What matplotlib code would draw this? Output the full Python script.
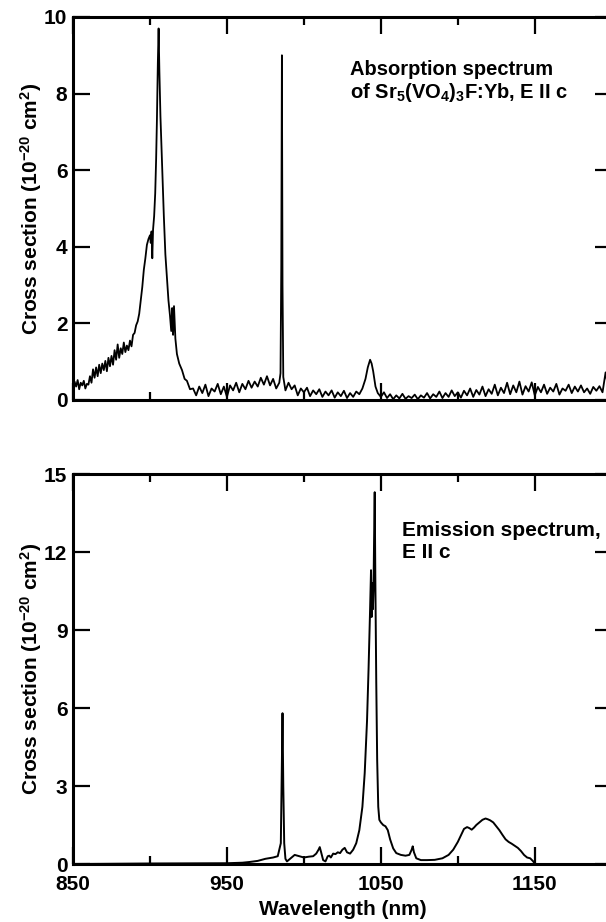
import numpy as np
import matplotlib
matplotlib.use("Agg")
import matplotlib.pyplot as plt
from matplotlib.ticker import MultipleLocator

# Fuentes: todo en negrita tipo Helvetica
plt.rcParams['font.family'] = ['Liberation Sans', 'DejaVu Sans']
plt.rcParams['font.weight'] = 'bold'
plt.rcParams['mathtext.fontset'] = 'custom'
plt.rcParams['mathtext.rm'] = 'Liberation Sans:bold'
plt.rcParams['mathtext.it'] = 'Liberation Sans:bold'
plt.rcParams['mathtext.bf'] = 'Liberation Sans:bold'

# Espectro de absorcion
abs_wl_a = np.arange(850, 901, 1)
abs_cs_a = [0.30, 0.48, 0.35, 0.52, 0.28, 0.45, 0.38, 0.50, 0.30, 0.42,
            0.40, 0.62, 0.45, 0.80, 0.58, 0.85, 0.62, 0.92, 0.70, 0.95,
            0.78, 1.02, 0.75, 1.10, 0.88, 1.15, 0.92, 1.30, 1.05, 1.45,
            1.10, 1.35, 1.20, 1.50, 1.25, 1.42, 1.30, 1.55, 1.40, 1.70,
            1.75, 1.95, 2.05, 2.25, 2.60, 2.95, 3.40, 3.70, 4.05, 4.20,
            4.30]
abs_wl_peak = [900.5, 901, 901.5, 902, 902.7, 903.4, 904, 904.5, 905.1, 905.6,
               906.1, 906.8, 907.8, 909, 910, 911, 912, 913, 913.8, 914.4,
               915, 915.6, 916.5, 917.5, 919, 920.8, 922.5, 924, 926]
abs_cs_peak = [4.10, 4.40, 3.70, 4.45, 4.80, 5.40, 6.30, 7.30, 8.80, 9.70,
               8.60, 7.40, 6.20, 4.80, 3.80, 3.20, 2.60, 2.20, 1.80, 2.40,
               1.70, 2.45, 1.60, 1.20, 0.95, 0.78, 0.55, 0.50, 0.28]
abs_wl_b = np.arange(928, 985, 2)
abs_cs_b = [0.30, 0.12, 0.35, 0.18, 0.40, 0.10, 0.30, 0.22, 0.42, 0.15,
            0.35, 0.08, 0.38, 0.25, 0.45, 0.20, 0.42, 0.28, 0.50, 0.32,
            0.48, 0.35, 0.58, 0.40, 0.62, 0.38, 0.55, 0.30, 0.45]
abs_wl_line = [984.8, 985.3, 985.7, 986.1, 986.6]
abs_cs_line = [0.70, 3.50, 9.00, 3.00, 0.60]
abs_wl_c = np.arange(988, 1037, 2)
abs_cs_c = [0.25, 0.45, 0.28, 0.38, 0.12, 0.30, 0.20, 0.32, 0.10, 0.25,
            0.15, 0.28, 0.08, 0.22, 0.12, 0.25, 0.06, 0.20, 0.10, 0.24,
            0.05, 0.18, 0.08, 0.22, 0.15]
abs_wl_bump = [1038, 1040, 1041.5, 1043, 1044, 1045, 1046.5, 1048]
abs_cs_bump = [0.30, 0.55, 0.85, 1.05, 0.95, 0.75, 0.35, 0.18]
abs_wl_d = np.arange(1050, 1201, 2)
abs_cs_d = [0.08, 0.20, 0.05, 0.15, 0.02, 0.12, 0.04, 0.16, 0.03, 0.10,
            0.05, 0.14, 0.02, 0.12, 0.06, 0.18, 0.04, 0.15, 0.08, 0.22,
            0.05, 0.18, 0.08, 0.25, 0.10, 0.20, 0.06, 0.24, 0.12, 0.30,
            0.08, 0.26, 0.14, 0.35, 0.10, 0.28, 0.16, 0.40, 0.12, 0.32,
            0.18, 0.45, 0.15, 0.38, 0.20, 0.48, 0.14, 0.36, 0.22, 0.46,
            0.12, 0.34, 0.20, 0.40, 0.16, 0.32, 0.22, 0.42, 0.14, 0.30,
            0.24, 0.40, 0.18, 0.35, 0.22, 0.38, 0.20, 0.30, 0.16, 0.34,
            0.24, 0.36, 0.20, 0.72, 0.25, 0.35]

abs_wl = np.concatenate([abs_wl_a, abs_wl_peak, abs_wl_b, abs_wl_line,
                         abs_wl_c, abs_wl_bump, abs_wl_d])
abs_cs = np.concatenate([abs_cs_a, abs_cs_peak, abs_cs_b, abs_cs_line,
                         abs_cs_c, abs_cs_bump, abs_cs_d])

# Espectro de emision
em_wl = [850, 900, 950, 960, 965, 970, 975, 980, 983, 985,
         985.6, 986.1, 986.6, 987.2, 988, 989, 991, 994, 997, 1000,
         1003, 1006, 1008, 1009.5, 1010.3, 1011.2, 1012.5, 1014, 1015.5, 1016.5,
         1017.5, 1019, 1020.5, 1022, 1023.5, 1025, 1026.5, 1028, 1030, 1032,
         1034, 1036, 1038, 1039.5, 1041, 1042, 1043, 1043.6, 1044.0, 1044.4,
         1044.8, 1045.2, 1045.6, 1046.0, 1046.4, 1047, 1047.6, 1048.3, 1049, 1050,
         1051.5, 1053, 1054.5, 1056, 1058, 1060, 1063, 1066, 1068.5, 1070,
         1070.7, 1071.5, 1073, 1076, 1080, 1085, 1090, 1094, 1097, 1100,
         1102, 1104, 1106, 1107.5, 1109, 1110.5, 1112, 1114, 1116, 1118,
         1119.5, 1121, 1123, 1125, 1127, 1129, 1131, 1133, 1135, 1137,
         1139, 1141, 1143, 1145, 1147, 1149, 1150, 1160, 1200]
em_cs = [0.00, 0.02, 0.03, 0.05, 0.08, 0.12, 0.20, 0.25, 0.30, 0.80,
         3.50, 5.80, 3.00, 0.80, 0.20, 0.10, 0.20, 0.35, 0.30, 0.25,
         0.28, 0.30, 0.40, 0.55, 0.65, 0.45, 0.15, 0.10, 0.30, 0.32,
         0.25, 0.40, 0.38, 0.45, 0.42, 0.55, 0.62, 0.45, 0.40, 0.55,
         0.80, 1.30, 2.20, 3.50, 5.50, 7.50, 9.80, 11.30, 9.50, 10.80,
         9.80, 10.50, 12.50, 14.30, 11.00, 7.00, 4.00, 2.20, 1.70, 1.60,
         1.50, 1.45, 1.30, 0.95, 0.60, 0.42, 0.35, 0.32, 0.35, 0.55,
         0.68, 0.45, 0.22, 0.15, 0.15, 0.16, 0.22, 0.35, 0.55, 0.85,
         1.10, 1.35, 1.42, 1.38, 1.32, 1.40, 1.50, 1.60, 1.70, 1.75,
         1.72, 1.68, 1.60, 1.45, 1.30, 1.12, 0.95, 0.85, 0.78, 0.70,
         0.62, 0.50, 0.35, 0.25, 0.22, 0.10, 0.00, 0.00, 0.00]

x_ticks = [850, 950, 1050, 1150]


def style_axes(ax, ymax, ystep, show_x):
    ax.set_xlim(850, 1200)
    ax.set_ylim(0, ymax)
    ax.xaxis.set_minor_locator(MultipleLocator(50))
    ax.set_xticks(x_ticks)
    ax.yaxis.set_major_locator(MultipleLocator(ystep))
    ax.tick_params(which='both', direction='in', top=True, right=True, width=1.6)
    ax.tick_params(which='major', length=12, labelsize=15)
    ax.tick_params(axis='y', pad=4)
    ax.tick_params(axis='x', pad=8)
    ax.tick_params(which='minor', length=6)
    for s in ax.spines.values():
        s.set_linewidth(2.2)
    for lab in ax.get_xticklabels() + ax.get_yticklabels():
        lab.set_fontweight('bold')
    if not show_x:
        ax.set_xticklabels([])
    ax.set_ylabel(r'Cross section (10$^{-20}$ cm$^{2}$)', fontsize=15,
                  fontweight='bold', labelpad=0)


fig = plt.figure(figsize=(6.06, 9.22), dpi=100)

# Panel superior: absorcion
ax1 = fig.add_axes([0.1205, 0.5662, 0.889, 0.4154])
ax1.plot(abs_wl, abs_cs, color='black', lw=1.3)
style_axes(ax1, 10, 2, False)
ax1.text(1030, 8.3, 'Absorption spectrum\nof Sr$_5$(VO$_4$)$_3$F:Yb, E II c',
         fontsize=14.5, fontweight='bold', va='center', ha='left',
         linespacing=1.1)

# Panel inferior: emision
ax2 = fig.add_axes([0.1205, 0.0629, 0.889, 0.423])
ax2.plot(em_wl, em_cs, color='black', lw=1.4)
style_axes(ax2, 15, 3, True)
ax2.set_xlabel('Wavelength (nm)', fontsize=15, fontweight='bold', labelpad=4)
ax2.text(1064, 12.4, 'Emission spectrum,\nE II c',
         fontsize=15, fontweight='bold', va='center', ha='left',
         linespacing=1.25)

fig.savefig('out.png', dpi=100)
